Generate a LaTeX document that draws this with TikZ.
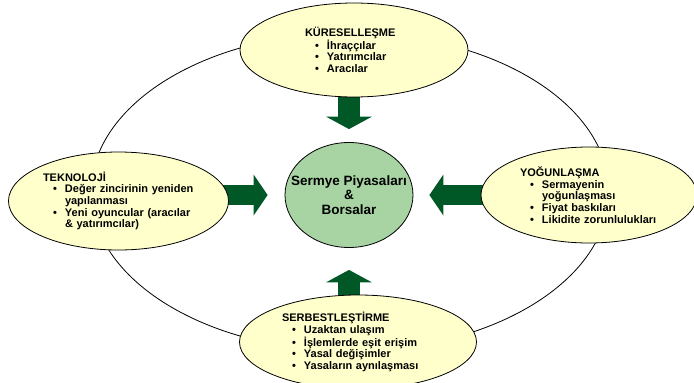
\documentclass[tikz,border=0pt]{standalone}
\usepackage{fontspec}
\setmainfont{Liberation Sans}
\usetikzlibrary{shapes.geometric, arrows.meta, backgrounds}

\definecolor{sari}{RGB}{255,255,204}
\definecolor{acikyesil}{RGB}{168,212,164}
\definecolor{koyuyesil}{RGB}{0,88,38}

\newcommand{\madde}[1]{\hspace*{10pt}\makebox[12pt][l]{\textbullet}#1}
\newcommand{\devam}[1]{\hspace*{22pt}#1}

\begin{document}
\begin{tikzpicture}[x=1pt, y=-1pt,
  etken/.style={draw, ellipse, fill=sari, line width=0.8pt, inner sep=0pt, align=left,
    font=\fontsize{11}{11.6}\selectfont\bfseries},
  kalinok/.style={draw=koyuyesil, line width=22pt,
    -{Triangle[length=12.5pt, width=46pt, line width=0pt]}},
  yatayok/.style={line width=20pt, -{Triangle[length=14pt, width=41pt, line width=0pt]}}]
\useasboundingbox (0,0) rectangle (694,383);
\node[draw, ellipse, line width=0.8pt, minimum width=518pt, minimum height=318pt] (cevre) at (350,192) {};

\node[etken, minimum width=228pt, minimum height=94pt, text width=98pt] (kure) at (354,50)
  {KÜRESELLEŞME\\ \madde{İhraççılar}\\ \madde{Yatırımcılar}\\ \madde{Aracılar}};
\node[etken, minimum width=220pt, minimum height=98pt, text width=151pt] (tekno) at (118.5,201)
  {TEKNOLOJİ\\ \madde{Değer zincirinin yeniden}\\ \devam{yapılanması}\\
   \madde{Yeni oyuncular (aracılar}\\ \devam{\& yatırımcılar)}};
\node[etken, minimum width=216pt, minimum height=96pt, text width=138pt] (yogun) at (589,195)
  {YOĞUNLAŞMA\\ \madde{Sermayenin}\\ \devam{yoğunlaşması}\\ \madde{Fiyat baskıları}\\
   \madde{Likidite zorunlulukları}};
\node[etken, minimum width=237pt, minimum height=94pt, text width=152pt] (serbest) at (358,342)
  {SERBESTLEŞTİRME\\ \madde{Uzaktan ulaşım}\\ \madde{İşlemlerde eşit erişim}\\
   \madde{Yasal değişimler}\\ \madde{Yasaların aynılaşması}};
\node[draw, ellipse, fill=acikyesil, line width=0.8pt, inner xsep=-14pt, inner ysep=0pt,
  minimum width=128pt, minimum height=105pt, align=center,
  font=\fontsize{13.5}{14.5}\selectfont\bfseries] (merkez) at (349,195)
  {Sermye Piyasaları\\ \&\\ Borsalar};

\begin{pgfonlayer}{background}
\draw [kalinok, shorten >=13pt] (kure.center -| merkez.center) -- (merkez.north);
\draw [kalinok, shorten >=22pt] (serbest.center -| merkez.center) -- (merkez.south);
\draw [kalinok, yatayok, shorten >=17pt] (tekno.center |- merkez.center) -- (merkez.west);
\draw [kalinok, yatayok, shorten >=16pt] (yogun.center |- merkez.center) -- (merkez.east);
\end{pgfonlayer}
\end{tikzpicture}
\end{document}
